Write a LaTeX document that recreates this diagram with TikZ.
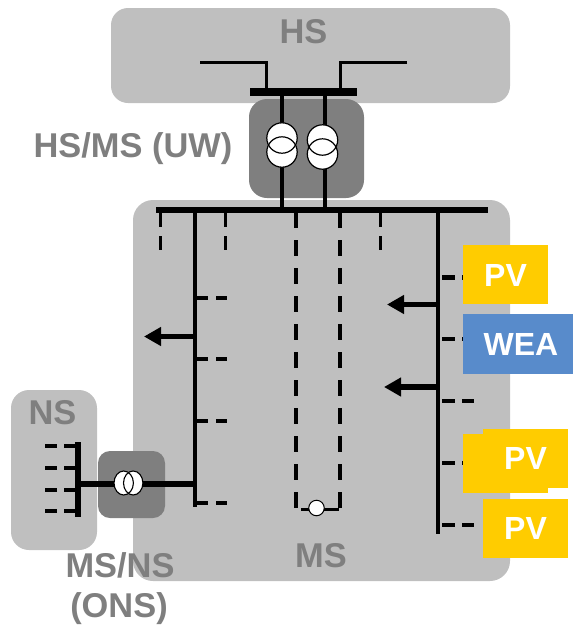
\documentclass[tikz,border=0pt]{standalone}
\usepackage{fontspec}
\setmainfont{Liberation Sans}
\usetikzlibrary{arrows.meta}
\definecolor{zonegray}{HTML}{BFBFBF}
\definecolor{stationgray}{HTML}{7F7F7F}
\definecolor{pvyellow}{HTML}{FFCC00}
\definecolor{weablue}{HTML}{588BCB}
\tikzset{
  zone/.style={fill=zonegray,inner sep=0pt,rounded corners=#1},
  station/.style={fill=stationgray,inner sep=0pt,rounded corners=#1},
  gen/.style={inner sep=0pt,text=white,font=\bfseries\fontsize{32}{32}\selectfont},
  genbox/.style={fill=#1,inner sep=0pt},
  lbl/.style={anchor=base,inner sep=0pt,text=stationgray,font=\bfseries\fontsize{34.4}{34.4}\selectfont},
  feeder/.style={line width=4pt,black},
  thinfeed/.style={line width=3pt,black},
  bus/.style={line width=#1,black},
  ringfill/.style={fill=white,circle,inner sep=0pt,minimum size=30.5pt},
  loop/.style={line width=4pt,black,dash pattern=on 16pt off 12pt},
  load/.style={line width=5.5pt,black,-{Triangle[length=17pt,width=18pt]}}
}
\begin{document}
\begin{tikzpicture}[x=1pt,y=-1pt]
\useasboundingbox (0,0) rectangle (573,625);
% zones
\node[zone=20pt,minimum width=377pt,minimum height=381pt] (ms) at (321.5,390.5) {};
\node[zone=17pt,minimum width=399pt,minimum height=95pt] (hs) at (310.5,55.5) {};
\node[station=18pt,minimum width=115pt,minimum height=99pt] (uw) at (306.5,148.5) {};
\node[zone=18pt,minimum width=86pt,minimum height=160pt] (ns) at (54,470) {};
\node[station=12pt,minimum width=67pt,minimum height=67pt] (ons) at (131.5,484.5) {};
% HS
\coordinate (hsbusL) at (250,92); \coordinate (hsbusR) at (357,92);
\coordinate (inL) at (200,62); \coordinate (inLb) at (266,62); \coordinate (inLc) at (266,92);
\coordinate (inR) at (407,62); \coordinate (inRb) at (340,62); \coordinate (inRc) at (340,92);
\draw[thinfeed] (inL) -- (inLb) -- (inLc);
\draw[thinfeed] (inR) -- (inRb) -- (inRc);
\draw[bus=7.5pt] (hsbusL) -- (hsbusR);
% MS main bus
\coordinate (msbusL) at (156,210); \coordinate (msbusR) at (488,210);
\coordinate (trLt) at (281.5,92); \coordinate (trLb) at (281.5,210);
\coordinate (trRt) at (324.5,92); \coordinate (trRb) at (324.5,210);
\draw[feeder] (trLt) -- (trLb);
\draw[feeder] (trRt) -- (trRb);
\draw[bus=6.5pt] (msbusL) -- (msbusR);
% UW transformers
\node[ringfill] (a0) at (282,138) {}; \node[ringfill] (a1) at (282,152) {};
\node[ringfill] (b0) at (322.5,140) {}; \node[ringfill] (b1) at (322.5,154) {};
\foreach \n/\xx/\yy in {a2/282/138,a3/282/152,b2/322.5/140,b3/322.5/154}
  \draw[line width=1.2pt] (\xx,\yy) circle[radius=15.2pt];
% short open stubs on main bus
\foreach \i/\xx in {1/160.5,2/225.5,3/380.5}{
  \coordinate (vs\i a) at (\xx,212); \coordinate (vs\i b) at (\xx,250);
  \draw[line width=3.4pt,black,dash pattern=on 15pt off 9pt] (vs\i a) -- (vs\i b);
}
% open ring
\coordinate (rLt) at (295.5,212); \coordinate (rLb) at (295.5,508);
\coordinate (rRt) at (339.5,212); \coordinate (rRb) at (339.5,508);
\draw[loop] (rLt) -- (rLb);
\draw[loop] (rRt) -- (rRb);
\coordinate (rbL) at (301,509.5); \coordinate (rbR) at (339,509.5);
\draw[line width=3.8pt] (rbL) -- (rbR);
\node[fill=white,draw=black,line width=1pt,circle,inner sep=0pt,minimum size=15.5pt] (sw) at (316.5,508) {};
% left feeder
\coordinate (flt) at (194.5,210); \coordinate (flb) at (194.5,507);
\draw[feeder] (flt) -- (flb);
\foreach \i/\yy in {1/298,2/359,3/421,4/503}{
  \coordinate (ls\i a) at (197,\yy); \coordinate (ls\i b) at (228,\yy);
  \draw[line width=4pt,dash pattern=on 11pt off 8pt] (ls\i a) -- (ls\i b);
}
\coordinate (la) at (194.5,336.5); \coordinate (lb) at (144,336.5);
\draw[load] (la) -- (lb);
% right feeder
\coordinate (frt) at (437.5,210); \coordinate (frb) at (437.5,534);
\draw[feeder] (frt) -- (frb);
\foreach \i/\yy in {1/277.5,2/339,3/401,4/463,5/525}{
  \coordinate (rs\i a) at (442,\yy); \coordinate (rs\i b) at (474,\yy);
  \draw[line width=4.6pt,dash pattern=on 13pt off 7pt] (rs\i a) -- (rs\i b);
}
\coordinate (ra1) at (437.5,304.5); \coordinate (rb1) at (387,304.5);
\coordinate (ra2) at (437.5,387); \coordinate (rb2) at (384,387);
\draw[load] (ra1) -- (rb1);
\draw[load] (ra2) -- (rb2);
% generators
\node[genbox=pvyellow,minimum width=85pt,minimum height=59pt] (pv1) at (505.5,274.5) {};
\node[genbox=weablue,minimum width=110pt,minimum height=60pt] (wea) at (518,344) {};
\node[genbox=pvyellow,minimum width=85pt,minimum height=59pt] (pv2b) at (505.5,463.5) {};
\node[genbox=pvyellow,minimum width=85pt,minimum height=59pt] (pv2) at (525.5,458.5) {};
\node[genbox=pvyellow,minimum width=85pt,minimum height=59pt] (pv3) at (525.5,528.5) {};
\node[gen,anchor=base] (tpv1) at (505.5,286) {PV};
\node[gen,anchor=base] (twea) at (521,355) {WEA};
\node[gen,anchor=base] (tpv2) at (525.5,469) {PV};
\node[gen,anchor=base] (tpv3) at (525.5,539) {PV};
% NS
\coordinate (nst) at (78,442); \coordinate (nsb) at (78,517);
\coordinate (tie1) at (78,484); \coordinate (tie2) at (194.5,484);
\draw[line width=6.5pt] (tie1) -- (tie2);
\draw[bus=5.5pt] (nst) -- (nsb);
\foreach \i/\yy in {1/446,2/468,3/490,4/511}{
  \coordinate (ns\i a) at (78,\yy); \coordinate (ns\i b) at (45,\yy);
  \draw[line width=4.4pt,dash pattern=on 14pt off 7pt] (ns\i a) -- (ns\i b);
}
% ONS transformer
\fill[white] (123.7,483) ellipse[x radius=9.7pt,y radius=12pt];
\fill[white] (133.2,483) ellipse[x radius=9.7pt,y radius=12pt];
\draw[line width=1.1pt] (123.7,483) ellipse[x radius=9.7pt,y radius=12pt];
\draw[line width=1.1pt] (133.2,483) ellipse[x radius=9.7pt,y radius=12pt];
% labels
\node[lbl] (lhs) at (303.5,43) {HS};
\node[lbl] (luw) at (133,157) {HS/MS (UW)};
\node[lbl] (lns) at (52.5,424) {NS};
\node[lbl] (lms) at (321,567) {MS};
\node[lbl] (lons1) at (120,577) {MS/NS};
\node[lbl] (lons2) at (119,617) {(ONS)};
\end{tikzpicture}
\end{document}
